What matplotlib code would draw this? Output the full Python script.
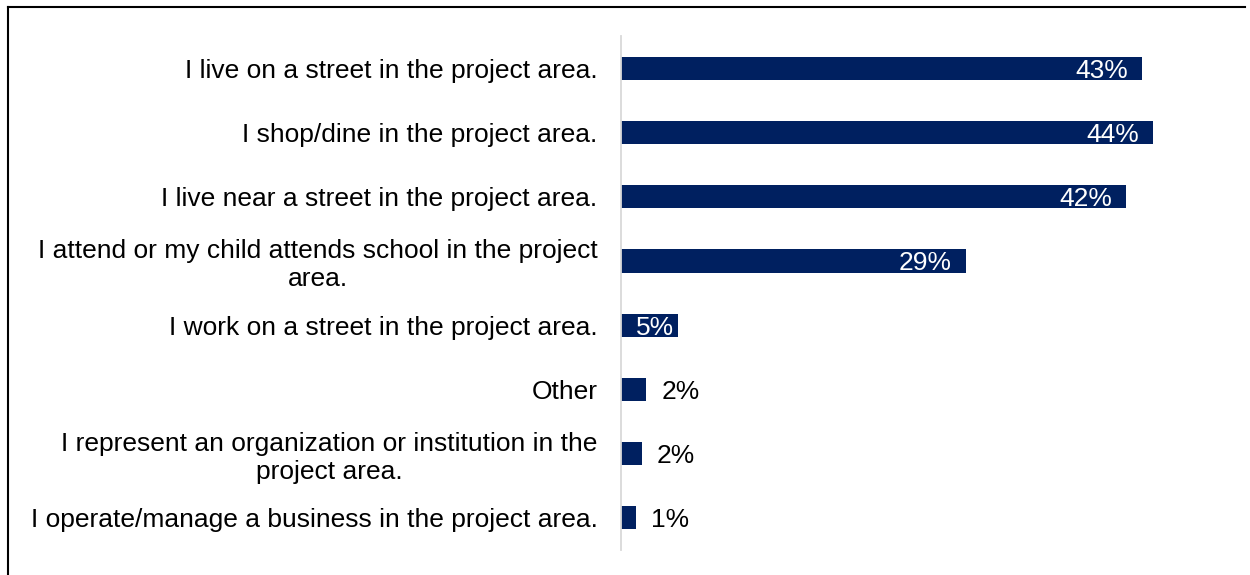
import matplotlib.pyplot as plt
from matplotlib.lines import Line2D

plt.rcParams['font.family'] = ['Liberation Sans', 'DejaVu Sans']

categories = [
    'I live on a street in the project area.',
    'I shop/dine in the project area.',
    'I live near a street in the project area.',
    'I attend or my child attends school in the project\narea.',
    'I work on a street in the project area.',
    'Other',
    'I represent an organization or institution in the\nproject area.',
    'I operate/manage a business in the project area.',
]
values = [43.1, 44.0, 41.8, 28.5, 4.7, 2.1, 1.7, 1.2]
labels = ['43%', '44%', '42%', '29%', '5%', '2%', '2%', '1%']
inside = [True, True, True, True, True, False, False, False]

navy = '#002060'

fig = plt.figure(figsize=(12.5, 5.75), dpi=100)
ax = fig.add_axes([0.4968, 0.0435, 0.4643, 0.8935])

y = list(range(len(categories)))
ax.barh(y, values, height=0.36, color=navy)
ax.set_ylim(len(categories) - 0.5, -0.5)
ax.set_xlim(0, 48)

for i, (v, lab, ins) in enumerate(zip(values, labels, inside)):
    if ins:
        off = -10 if v > 10 else -3
        ax.annotate(lab, (v, i), xytext=(off, 0), textcoords='offset points',
                    ha='right', va='center_baseline', color='white', fontsize=19)
    else:
        ax.annotate(lab, (v, i), xytext=(11, 0), textcoords='offset points',
                    ha='left', va='center_baseline', color='black', fontsize=19)

ax.set_yticks(y)
ax.set_yticklabels(categories, fontsize=19, multialignment='center')
ax.tick_params(axis='y', length=0, pad=17)
ax.set_xticks([])
for s in ['top', 'right', 'bottom']:
    ax.spines[s].set_visible(False)
ax.spines['left'].set_color('#d9d9d9')
ax.spines['left'].set_linewidth(1.3)

# frame around the chart (top and left edges)
fig.add_artist(Line2D([0.0065, 0.996], [0.988, 0.988], color='black', lw=1.5,
                      transform=fig.transFigure))
fig.add_artist(Line2D([0.0065, 0.0065], [0.0, 0.988], color='black', lw=1.5,
                      transform=fig.transFigure))

fig.savefig('out.png', dpi=100, facecolor='white')
